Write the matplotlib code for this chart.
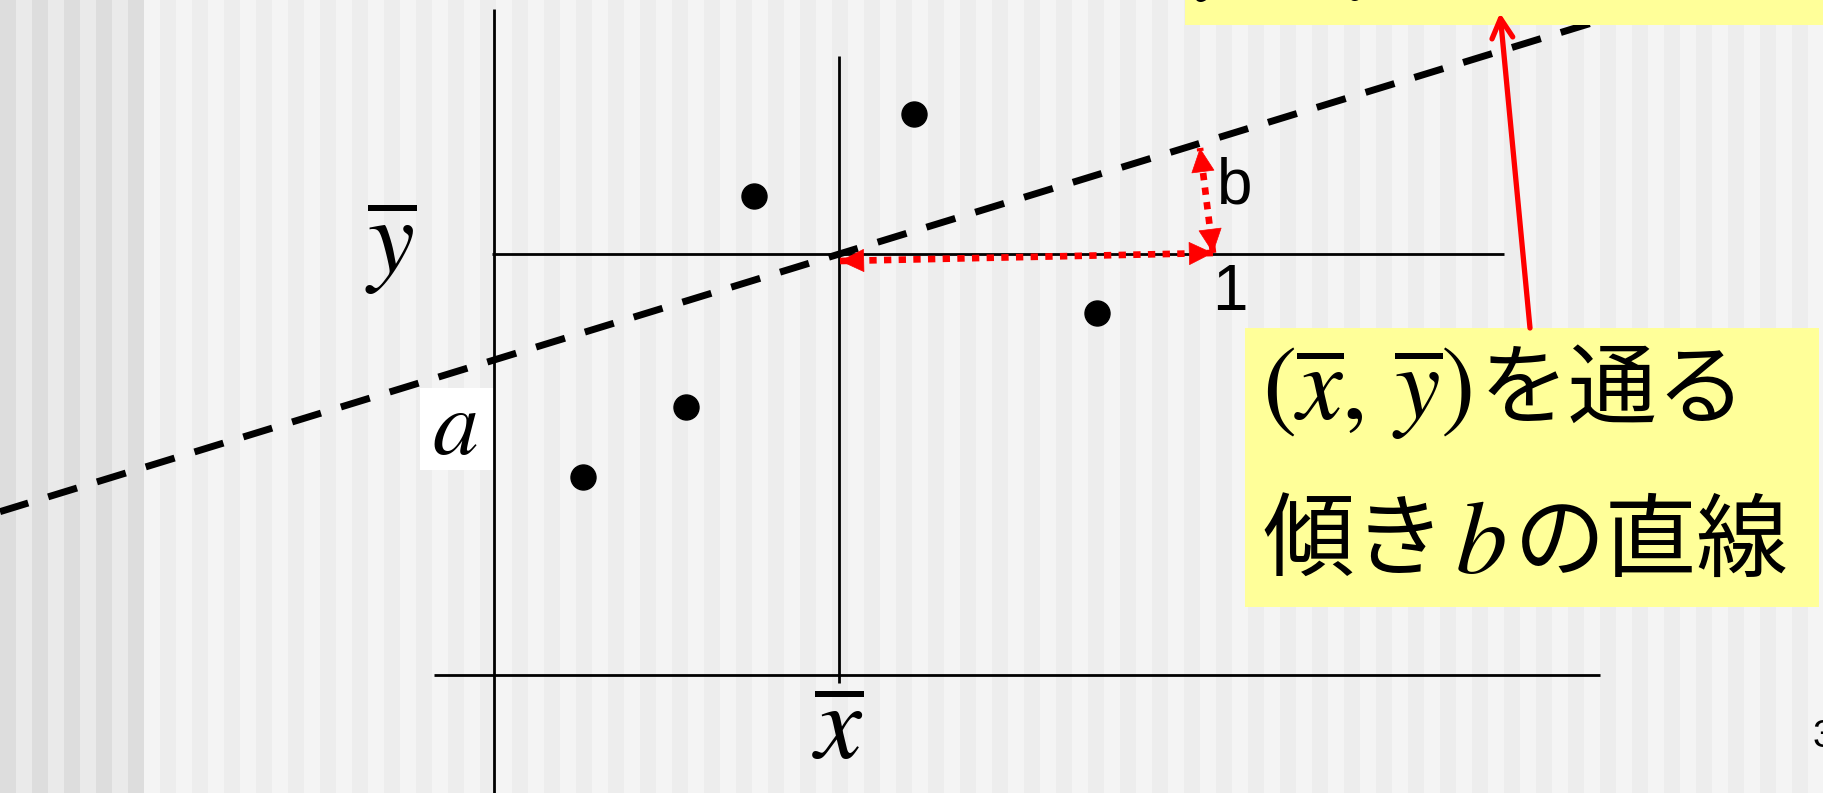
import matplotlib
matplotlib.use("Agg")
import matplotlib.pyplot as plt
from matplotlib.patches import Rectangle, FancyArrowPatch
from matplotlib import font_manager as fm
import numpy as np

plt.rcParams['mathtext.fontset'] = 'stix'

# ---- data (diagram units) ----
point_x = [4.20, 2.60, 6.03, 1.92, 0.89]
point_y = [5.61, 4.79, 3.62, 2.68, 1.98]
x_mean = 3.45
y_mean = 4.21
intercept_a = 3.15
slope_b = 0.307
# red dotted "1" and "b" arrows: start, corner, top
step_x = [3.46, 7.19, 7.06]
step_y = [4.14, 4.22, 5.27]
# pointer arrow from the label box to the line equation
pointer_x = [10.36, 10.06]
pointer_y = [3.47, 6.62]

# Arial-like sans font (by file, so it is really used)
sans_path = None
for cand in ['Liberation Sans', 'Arimo', 'Arial', 'Roboto']:
    try:
        sans_path = fm.findfont(fm.FontProperties(family=cand), fallback_to_default=False)
        break
    except Exception:
        pass


def sans(size):
    if sans_path:
        return fm.FontProperties(fname=sans_path, size=size)
    return fm.FontProperties(family='DejaVu Sans', size=size)


W, H = 1824, 793
fig = plt.figure(figsize=(W / 100, H / 100), dpi=100)
ax = fig.add_axes([0, 0, 1, 1])
ax.set_xlim(-4.94, 13.30)
ax.set_ylim(-1.18, 6.75)
ax.axis('off')
ax.patch.set_visible(False)

# ---- striped slide background ----
for i in range(9):
    c = '#DDDDDD' if i % 2 == 0 else '#EAEAEA'
    fig.add_artist(Rectangle((16 * i / W, 0), 16 / W, 1, transform=fig.transFigure,
                             facecolor=c, lw=0, zorder=-5))
for i in range((W - 144) // 16 + 1):
    c = '#F4F4F4' if i % 2 == 0 else '#EDEDED'
    fig.add_artist(Rectangle(((144 + 16 * i) / W, 0), 16 / W, 1, transform=fig.transFigure,
                             facecolor=c, lw=0, zorder=-5))

# ---- axes and mean lines ----
lk = dict(color='black', lw=2.0, solid_capstyle='butt', zorder=2)
ax.plot([0, 0], [-1.18, 6.66], **lk)
ax.plot([-0.60, 11.06], [0, 0], **lk)
ax.plot([x_mean, x_mean], [-0.08, 6.19], **lk)
ax.plot([-0.02, 10.10], [y_mean, y_mean], **lk)

# white box behind 'a'
ax.add_patch(Rectangle((-0.74, 2.05), 0.75, 0.82, facecolor='white', lw=0, zorder=1.5))

# ---- regression line ----
xs = np.array([-4.94, 13.30])
ys = intercept_a + slope_b * xs
ax.plot(xs, ys, color='black', lw=5.0, linestyle=(0.1, (4.35, 3.0)), zorder=3)

# ---- data points ----
ax.plot(point_x, point_y, 'o', color='black', ms=18, zorder=4)

# ---- red dotted arrows ----
dot = dict(color='red', lw=4.8, linestyle=(0, (1.1, 1.1)), zorder=5)
ax.plot(step_x[:2], step_y[:2], **dot)
ax.plot(step_x[1:], step_y[1:], **dot)


def head(tip, frm, length=0.23):
    d = np.array(tip) - np.array(frm)
    d = d / np.hypot(*d)
    start = np.array(tip) - d * length
    ax.add_patch(FancyArrowPatch(tuple(start), tuple(tip),
                                 arrowstyle='-|>,head_length=16.5,head_width=8',
                                 mutation_scale=1, color='red', lw=0.5,
                                 shrinkA=0, shrinkB=0, zorder=5.5))


p0 = (step_x[0], step_y[0]); p1 = (step_x[1], step_y[1]); p2 = (step_x[2], step_y[2])
head(p0, p1)
head(p1, p0)
head(p1, p2)
head(p2, p1)

# ---- yellow boxes ----
ax.add_patch(Rectangle((6.91, 6.50), 13.30 - 6.91, 0.40, facecolor='#FFFF99', lw=0, zorder=6))
ax.add_patch(Rectangle((7.51, 0.68), 5.74, 2.79, facecolor='#FFFF99', lw=0, zorder=6))

# pointer arrow
ax.add_patch(FancyArrowPatch((pointer_x[0], pointer_y[0]), (pointer_x[1], pointer_y[1]),
                             arrowstyle='->,head_length=14,head_width=7.5',
                             mutation_scale=1, color='red', lw=3.8, capstyle='round',
                             joinstyle='round', shrinkA=0, shrinkB=0, zorder=8))

# ---- texts ----
ax.text(-1.03, 4.28, r'$\overline{y}$', fontsize=76, ha='center', va='center', zorder=7)
ax.text(3.44, -0.56, r'$\overline{x}$', fontsize=76, ha='center', va='center', zorder=7)
ax.text(-0.39, 2.47, r'$a$', fontsize=66, ha='center', va='center', zorder=7)
ax.text(7.41, 4.88, 'b', fontproperties=sans(46), ha='center', va='center', zorder=7)
ax.text(7.36, 3.82, '1', fontproperties=sans(46), ha='center', va='center', zorder=7)
ax.text(13.19, -0.62, '3', fontproperties=sans(28), ha='left', va='center', zorder=7)

# equation in top box (mostly cut off by the top edge)
ax.text(7.01, 6.95, r'$y=\overline{y}+b\,(x-\overline{x})$', fontsize=78, ha='left',
        va='baseline', zorder=7)

# label box text
jp = ['Noto Sans CJK JP', 'DejaVu Sans']
ax.text(7.68, 2.83, r'$(\overline{x},\,\overline{y})$', fontsize=74, ha='left', va='center', zorder=7)
ax.text(9.86, 2.83, 'を通る', fontsize=64, family=jp, ha='left', va='center', zorder=7)
ax.text(7.68, 1.31, '傾き', fontsize=66, family=jp, ha='left', va='center', zorder=7)
ax.text(9.86, 1.31, r'$b$', fontsize=74, ha='center', va='center', zorder=7)
ax.text(10.20, 1.31, 'の直線', fontsize=66, family=jp, ha='left', va='center', zorder=7)

fig.savefig('out.png', dpi=100)
